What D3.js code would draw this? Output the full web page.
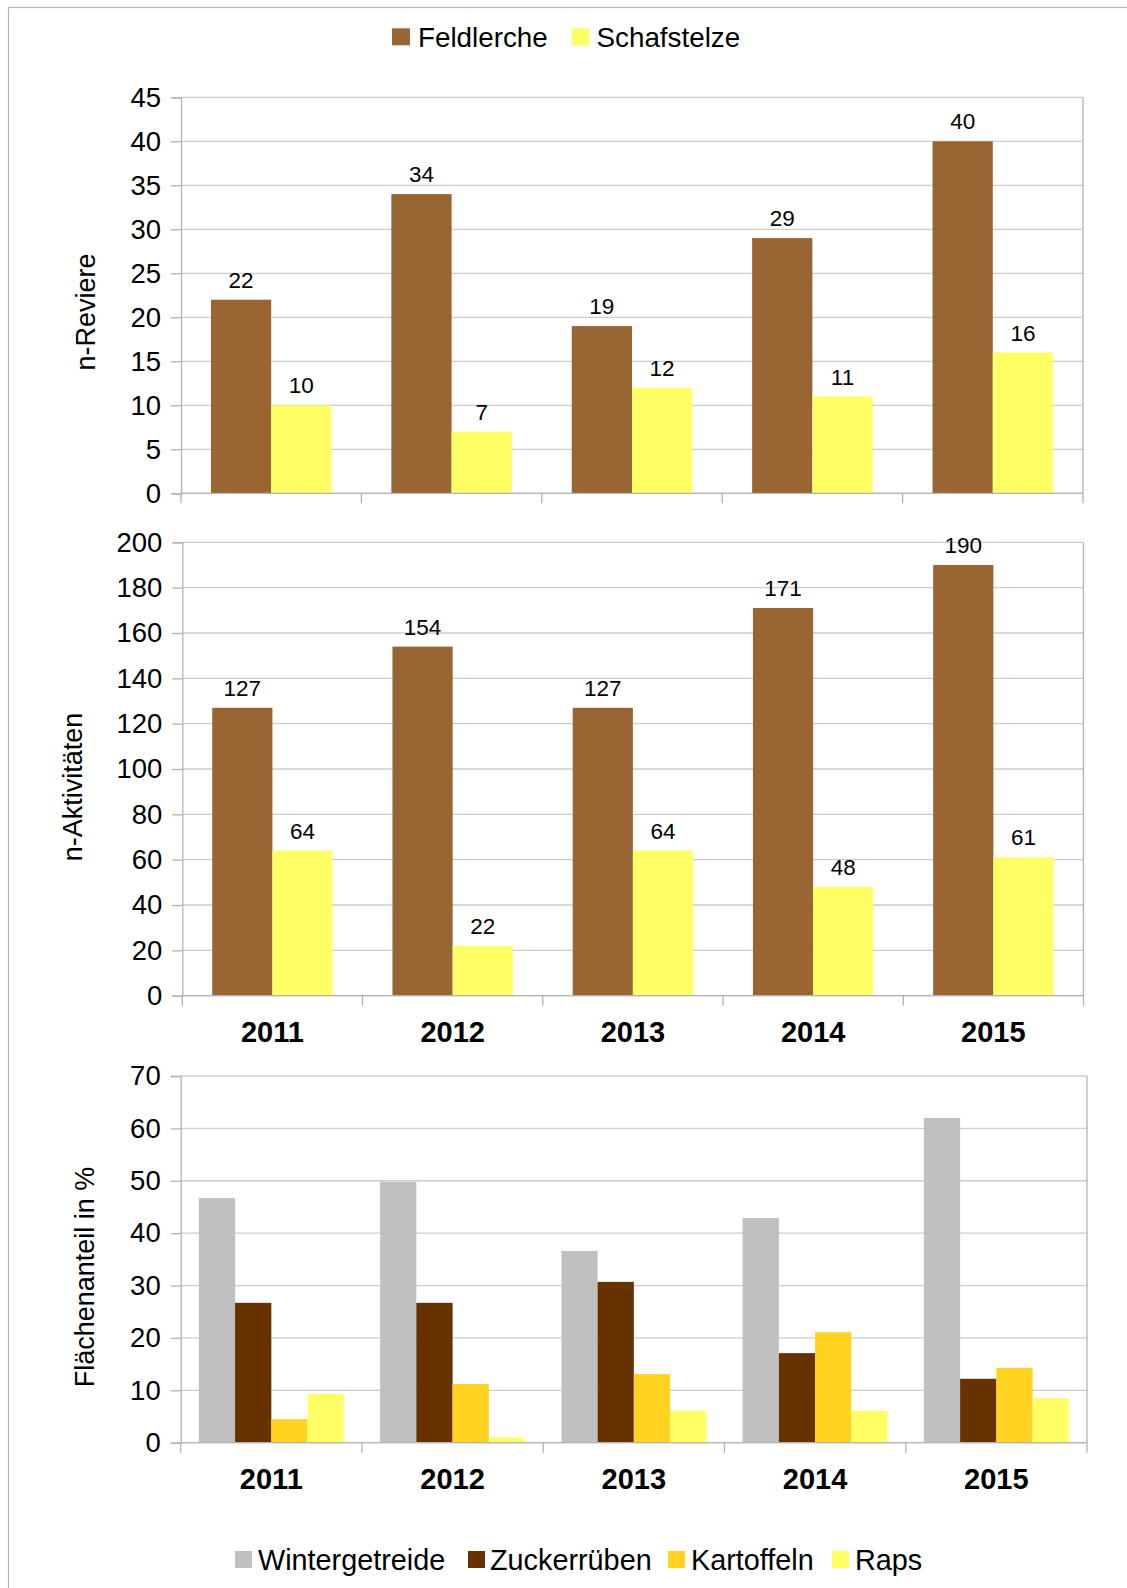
<!DOCTYPE html>
<html>
<head>
<meta charset="utf-8">
<script src="https://cdn.jsdelivr.net/npm/d3@7"></script>
<style>
  html, body { margin: 0; padding: 0; background: #fff; }
  svg { display: block; font-family: "Liberation Sans", Arial, sans-serif; }
</style>
</head>
<body>
<svg id="chart" width="1127" height="1588"></svg>
<script>
// Years shown on the category axes
const years = ["2011", "2012", "2013", "2014", "2015"];

// Territories (n-Reviere)
const feldlercheReviere = [22, 34, 19, 29, 40];
const schafstelzeReviere = [10, 7, 12, 11, 16];

// Activities (n-Aktivitäten)
const feldlercheAktivitaeten = [127, 154, 127, 171, 190];
const schafstelzeAktivitaeten = [64, 22, 64, 48, 61];

// Crop share of the area in %
const wintergetreide = [46.7, 49.8, 36.6, 42.9, 62.0];
const zuckerrueben = [26.7, 26.7, 30.7, 17.1, 12.2];
const kartoffeln = [4.5, 11.2, 13.1, 21.1, 14.3];
const raps = [9.3, 1.0, 6.1, 6.1, 8.5];

// Tick values for the three value axes
const ticksReviere = [0, 5, 10, 15, 20, 25, 30, 35, 40, 45];
const ticksAktivitaeten = [0, 20, 40, 60, 80, 100, 120, 140, 160, 180, 200];
const ticksFlaeche = [0, 10, 20, 30, 40, 50, 60, 70];

const birdSeries = ["Feldlerche", "Schafstelze"];
const cropSeries = ["Wintergetreide", "Zuckerrüben", "Kartoffeln", "Raps"];

const colors = {
  "Feldlerche": "#996633",
  "Schafstelze": "#FFFF66",
  "Wintergetreide": "#C0C0C0",
  "Zuckerrüben": "#663300",
  "Kartoffeln": "#FFD320",
  "Raps": "#FFFF66"
};

const svg = d3.select("#chart");

// Outer frame
svg.append("rect")
  .attr("x", 8.5).attr("y", 7.5)
  .attr("width", 1200).attr("height", 1700)
  .attr("fill", "none").attr("stroke", "#b3b3b3").attr("stroke-width", 1.2);

function drawPanel(cfg) {
  const g = svg.append("g");
  const x0 = d3.scaleBand().domain(years).range([cfg.left, cfg.right]).padding(0);
  const x1 = d3.scaleBand().domain(cfg.series)
    .range([x0.bandwidth() * cfg.inset, x0.bandwidth() * (1 - cfg.inset)]).padding(0);
  const y = d3.scaleLinear().domain([0, cfg.max]).range([cfg.bottom, cfg.top]);

  // Horizontal gridlines
  g.append("g").selectAll("line").data(cfg.ticks).join("line")
    .attr("x1", cfg.left).attr("x2", cfg.right)
    .attr("y1", d => y(d)).attr("y2", d => y(d))
    .attr("stroke", "#cccccc").attr("stroke-width", 1.3);

  // Bars
  const groups = g.append("g").selectAll("g").data(years).join("g")
    .attr("transform", d => `translate(${x0(d)},0)`);
  groups.selectAll("rect")
    .data((d, i) => cfg.series.map((s, k) => ({ s, v: cfg.values[k][i] })))
    .join("rect")
    .attr("x", d => x1(d.s))
    .attr("width", x1.bandwidth())
    .attr("y", d => y(d.v))
    .attr("height", d => cfg.bottom - y(d.v))
    .attr("fill", d => colors[d.s]);

  if (cfg.labels) {
    groups.selectAll("text")
      .data((d, i) => cfg.series.map((s, k) => ({ s, v: cfg.values[k][i] })))
      .join("text")
      .attr("x", d => x1(d.s) + x1.bandwidth() / 2)
      .attr("y", d => y(d.v) - 12)
      .attr("text-anchor", "middle")
      .attr("font-size", 22.5)
      .attr("fill", "#000")
      .text(d => d.v);
  }

  // Value axis
  const yAxis = d3.axisLeft(y).tickValues(cfg.ticks).tickSize(10).tickPadding(10);
  const ya = g.append("g").attr("transform", `translate(${cfg.left},0)`).call(yAxis);
  ya.select(".domain").attr("stroke", "#b3b3b3").attr("stroke-width", 1.3);
  ya.selectAll(".tick line").attr("stroke", "#b3b3b3").attr("stroke-width", 1.3);
  ya.selectAll(".tick text").attr("font-size", 27.5).attr("fill", "#000")
    .attr("font-family", "Liberation Sans, Arial, sans-serif");

  // Right border of the plot area
  g.append("line")
    .attr("x1", cfg.right).attr("x2", cfg.right)
    .attr("y1", cfg.top).attr("y2", cfg.bottom)
    .attr("stroke", "#b3b3b3").attr("stroke-width", 1.3);

  // Category axis
  const xb = d3.scaleLinear().domain([0, years.length]).range([cfg.left, cfg.right]);
  const xa = g.append("g");
  xa.append("line")
    .attr("x1", cfg.left).attr("x2", cfg.right)
    .attr("y1", cfg.bottom).attr("y2", cfg.bottom)
    .attr("stroke", "#b3b3b3").attr("stroke-width", 1.3);
  xa.selectAll("line.tk").data(d3.range(years.length + 1)).join("line")
    .attr("class", "tk")
    .attr("x1", d => xb(d)).attr("x2", d => xb(d))
    .attr("y1", cfg.bottom).attr("y2", cfg.bottom + 10)
    .attr("stroke", "#b3b3b3").attr("stroke-width", 1.3);
  if (cfg.yearLabels) {
    xa.selectAll("text").data(years).join("text")
      .attr("x", d => x0(d) + x0.bandwidth() / 2)
      .attr("y", cfg.bottom + 46)
      .attr("text-anchor", "middle")
      .attr("font-size", 29).attr("font-weight", "bold")
      .text(d => d);
  }

  // Axis title
  g.append("text")
    .attr("transform", `translate(${cfg.titleX},${cfg.titleY}) rotate(-90)`)
    .attr("text-anchor", "middle")
    .attr("font-size", 27)
    .text(cfg.title);
}

drawPanel({
  left: 181, right: 1083, top: 97.3, bottom: 493.3, max: 45,
  ticks: ticksReviere, series: birdSeries,
  values: [feldlercheReviere, schafstelzeReviere],
  inset: 0.166, labels: true, yearLabels: false,
  title: "n-Reviere", titleX: 95, titleY: 312
});

drawPanel({
  left: 182.3, right: 1083.5, top: 542.3, bottom: 995.7, max: 200,
  ticks: ticksAktivitaeten, series: birdSeries,
  values: [feldlercheAktivitaeten, schafstelzeAktivitaeten],
  inset: 0.166, labels: true, yearLabels: true,
  title: "n-Aktivitäten", titleX: 82, titleY: 787
});

drawPanel({
  left: 180.7, right: 1087, top: 1076, bottom: 1442.7, max: 70,
  ticks: ticksFlaeche, series: cropSeries,
  values: [wintergetreide, zuckerrueben, kartoffeln, raps],
  inset: 0.1, labels: false, yearLabels: true,
  title: "Flächenanteil in %", titleX: 93.5, titleY: 1277
});

// Legends
function drawLegend(items, y, size, font) {
  const g = svg.append("g");
  items.forEach(it => {
    g.append("rect")
      .attr("x", it.x).attr("y", y)
      .attr("width", size[0]).attr("height", size[1])
      .attr("fill", colors[it.name]);
    g.append("text")
      .attr("x", it.tx).attr("y", y + size[1] + 2)
      .attr("font-size", font)
      .text(it.name);
  });
}

drawLegend([
  { name: "Feldlerche", x: 392, tx: 418 },
  { name: "Schafstelze", x: 571.5, tx: 596.5 }
], 28.3, [18, 17], 27.8);

drawLegend([
  { name: "Wintergetreide", x: 235, tx: 258 },
  { name: "Zuckerrüben", x: 468, tx: 490 },
  { name: "Kartoffeln", x: 668, tx: 691 },
  { name: "Raps", x: 832, tx: 855 }
], 1551, [17, 17], 28.8);
</script>
</body>
</html>
